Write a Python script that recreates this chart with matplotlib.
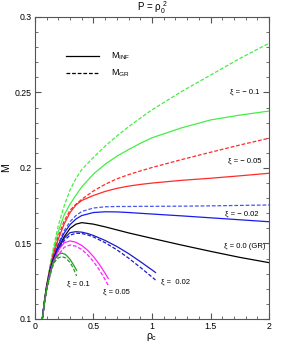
import numpy as np
import matplotlib
matplotlib.use("Agg")
import matplotlib.pyplot as plt
from matplotlib.ticker import MultipleLocator, FormatStrFormatter

plt.rcParams['font.family'] = ['Liberation Sans', 'DejaVu Sans']
plt.rcParams['mathtext.fontset'] = 'custom'
plt.rcParams['mathtext.rm'] = 'Liberation Sans'
plt.rcParams['mathtext.it'] = 'Liberation Sans'

# rho_c grid for the curves that run to 2
x_long = [0.058, 0.08, 0.1, 0.13, 0.16, 0.2, 0.25, 0.3, 0.35, 0.4, 0.5, 0.6, 0.7, 0.8, 0.9, 1.0, 1.25, 1.5, 1.75, 2.0]

# xi = -0.1
gr_m10 = [0.097, 0.112, 0.123, 0.136, 0.148, 0.162, 0.175, 0.1855, 0.193, 0.199, 0.207, 0.2145, 0.2212, 0.2273, 0.233, 0.2385, 0.2505, 0.2615, 0.2725, 0.2826]
inf_m10 = [0.097, 0.112, 0.122, 0.135, 0.146, 0.158, 0.169, 0.176, 0.182, 0.1875, 0.196, 0.2025, 0.2078, 0.2122, 0.2163, 0.220, 0.2265, 0.2318, 0.235, 0.2377]
# xi = -0.05
gr_m05 = [0.097, 0.111, 0.122, 0.134, 0.144, 0.155, 0.165, 0.172, 0.176, 0.1793, 0.1848, 0.1892, 0.1928, 0.1956, 0.198, 0.2003, 0.2055, 0.2104, 0.2152, 0.2197]
inf_m05 = [0.097, 0.111, 0.122, 0.134, 0.143, 0.153, 0.163, 0.1705, 0.1755, 0.1785, 0.1818, 0.1845, 0.1865, 0.188, 0.1891, 0.190, 0.1918, 0.1932, 0.1948, 0.1965]
# xi = -0.02
gr_m02 = [0.097, 0.111, 0.121, 0.133, 0.142, 0.150, 0.1585, 0.1645, 0.1685, 0.1712, 0.1735, 0.1743, 0.1745, 0.1745, 0.1746, 0.1746, 0.1747, 0.1749, 0.1752, 0.1755]
inf_m02 = [0.097, 0.111, 0.121, 0.133, 0.141, 0.149, 0.157, 0.1625, 0.1662, 0.1685, 0.1705, 0.171, 0.1709, 0.1705, 0.170, 0.1695, 0.1683, 0.167, 0.1657, 0.1644]
# xi = 0 (GR)
m_0 = [0.097, 0.111, 0.121, 0.132, 0.140, 0.147, 0.1545, 0.160, 0.1628, 0.1638, 0.1628, 0.161, 0.159, 0.157, 0.1552, 0.1534, 0.149, 0.1448, 0.1408, 0.1373]

# xi = 0.02
x_p02 = [0.058, 0.08, 0.1, 0.13, 0.16, 0.2, 0.25, 0.3, 0.35, 0.4, 0.45, 0.5, 0.6, 0.7, 0.8, 0.9, 1.0, 1.03]
inf_p02 = [0.097, 0.110, 0.120, 0.131, 0.139, 0.1465, 0.1535, 0.1572, 0.1578, 0.1575, 0.1566, 0.1553, 0.152, 0.148, 0.1433, 0.138, 0.1325, 0.1308]
gr_p02 = [0.097, 0.110, 0.120, 0.131, 0.138, 0.1455, 0.152, 0.1555, 0.1568, 0.1566, 0.1557, 0.1543, 0.1505, 0.1458, 0.1403, 0.1342, 0.1278, 0.1258]
# xi = 0.05
x_p05 = [0.058, 0.08, 0.1, 0.13, 0.16, 0.2, 0.25, 0.3, 0.35, 0.4, 0.45, 0.5, 0.55, 0.6, 0.626]
inf_p05 = [0.097, 0.110, 0.120, 0.131, 0.1385, 0.1455, 0.1505, 0.1517, 0.1508, 0.1487, 0.1455, 0.1413, 0.1362, 0.1302, 0.1268]
gr_p05 = [0.097, 0.110, 0.119, 0.130, 0.137, 0.1425, 0.1475, 0.149, 0.1482, 0.146, 0.1425, 0.138, 0.1325, 0.126, 0.1222]
# xi = 0.1
x_p10 = [0.058, 0.08, 0.1, 0.13, 0.16, 0.2, 0.23, 0.26, 0.3, 0.33, 0.356]
inf_p10 = [0.097, 0.110, 0.120, 0.130, 0.1385, 0.1428, 0.1436, 0.1428, 0.1395, 0.1358, 0.1322]
gr_p10 = [0.097, 0.110, 0.119, 0.129, 0.137, 0.1405, 0.1413, 0.1405, 0.1375, 0.1332, 0.1285]

labels = ['ξ = − 0.1', 'ξ = − 0.05', 'ξ = − 0.02',
          'ξ = 0.0 (GR)', 'ξ =  0.02', 'ξ = 0.05', 'ξ = 0.1']
label_x = [1.79, 1.79, 1.77, 1.79, 1.20, 0.70, 0.37]
label_y = [0.2503, 0.2044, 0.1693, 0.1479, 0.1245, 0.1179, 0.1236]

fig = plt.figure(figsize=(3.04, 3.44), dpi=100)
ax = fig.add_axes([0.115, 0.0727, 0.77, 0.878])

dash = (0, (3, 1.5))
lw = 0.9
ax.plot(x_long, gr_m10, color='#44ee44', lw=lw, ls=dash)
ax.plot(x_long, inf_m10, color='#44ee44', lw=lw)
ax.plot(x_long, gr_m05, color='#ff2a2a', lw=lw, ls=dash)
ax.plot(x_long, inf_m05, color='#ff2a2a', lw=lw)
ax.plot(x_long, gr_m02, color='#4a55ee', lw=lw, ls=dash)
ax.plot(x_long, inf_m02, color='#1a1aee', lw=lw)
ax.plot(x_long, m_0, color='black', lw=lw)
ax.plot(x_p02, inf_p02, color='#1a1acc', lw=lw)
ax.plot(x_p02, gr_p02, color='#1a1acc', lw=lw, ls=dash)
ax.plot(x_p05, inf_p05, color='#ff22ff', lw=lw)
ax.plot(x_p05, gr_p05, color='#ff22ff', lw=lw, ls=dash)
ax.plot(x_p10, inf_p10, color='#2a9a2a', lw=lw)
ax.plot(x_p10, gr_p10, color='#2a9a2a', lw=lw, ls=dash)

for t, lx, ly in zip(labels, label_x, label_y):
    ax.text(lx, ly, t, fontsize=5.5, ha='center', va='center')

# legend
h1, = ax.plot([], [], color='black', lw=lw)
h2, = ax.plot([], [], color='black', lw=lw, ls=dash)
ax.legend([h1, h2], [r'M$_{\rm INF}$', r'M$_{\rm GR}$'], loc='upper left',
          bbox_to_anchor=(0.1, 0.915), frameon=False, fontsize=6.5,
          handlelength=3.6, handletextpad=1.3, labelspacing=0.6)

ax.set_xlim(0, 2)
ax.set_ylim(0.1, 0.3)
ax.xaxis.set_major_locator(MultipleLocator(0.5))
ax.xaxis.set_minor_locator(MultipleLocator(0.1))
ax.yaxis.set_major_locator(MultipleLocator(0.05))
ax.yaxis.set_minor_locator(MultipleLocator(0.01))
ax.xaxis.set_major_formatter(FormatStrFormatter('%g'))
ax.yaxis.set_major_formatter(FormatStrFormatter('%g'))
ax.tick_params(which='both', direction='in', top=True, right=True, labelsize=6.3,
               color='#555555', pad=2.5)
ax.tick_params(which='major', length=4, width=0.8)
ax.tick_params(which='minor', length=2, width=0.6)
for s in ax.spines.values():
    s.set_color('#555555')
    s.set_linewidth(0.8)

ax.set_title(r'P = $\rho_0^{\ 2}$', fontsize=7, pad=4)
ax.set_xlabel(r'$\rho_{\rm c}$', fontsize=7.5)
ax.set_ylabel('M', fontsize=7.5)
ax.xaxis.set_label_coords(0.5, -0.04)
ax.yaxis.set_label_coords(-0.1, 0.5)

fig.savefig('out.png', dpi=100)
